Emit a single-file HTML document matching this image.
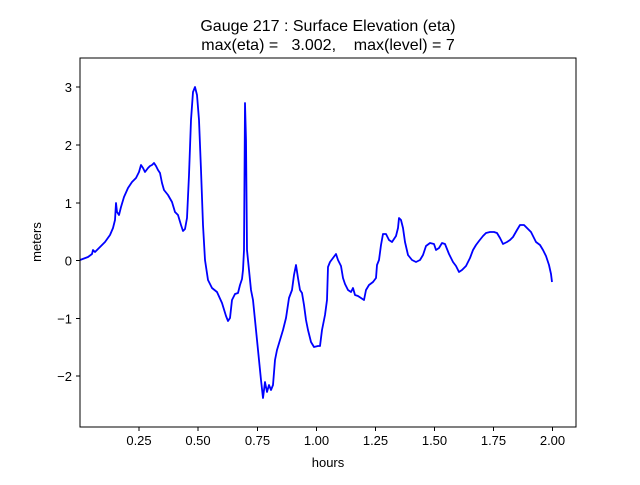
<!DOCTYPE html>
<html><head><meta charset="utf-8"><style>body{margin:0;background:#fff}</style></head><body>
<svg width="640" height="480" xmlns="http://www.w3.org/2000/svg" font-family="Liberation Sans, DejaVu Sans, sans-serif">
<rect width="640" height="480" fill="#fff"/>
<text x="328" y="31" font-size="16" text-anchor="middle">Gauge 217 : Surface Elevation (eta)</text>
<text x="328" y="50" font-size="16" text-anchor="middle" xml:space="preserve">max(eta) =   3.002,    max(level) = 7</text>
<polyline fill="none" stroke="#0000ff" stroke-width="1.8" stroke-linejoin="round" points="80,260 88,257 92,254 93,250 95,252 100,247 105,242 110,235 113,228 115,220 116,203 117,212 119,215 121,207 124,197 128,188 132,182 136,178 139,172 141,165 143,168 145,172 148,168 150,166 152,165 154,163 156,166 158,170 160,173 162,183 164,190 168,195 172,202 175,212 178,215 181,225 183,231 185,229 187,218 189,175 191,120 193,92 195,87 197,95 199,120 201,170 203,225 205,260 208,280 212,288 217,292 222,303 226,316 228,321 230,318 232,300 235,294 238,293 239,289 240,285 242,279 243,270 244,250 245,103 246,140 247,250 249,270 251,290 253,300 255,320 257,340 259,360 261,380 263,398 265,382 267,392 269,385 271,390 273,385 275,360 277,350 280,340 283,330 286,318 289,298 292,290 294,275 296,265 298,278 300,290 302,293 304,305 306,320 308,330 311,342 314,347 318,346 320,346 322,330 325,315 327,300 328,267 330,262 333,258 336,254 338,260 341,266 343,278 345,284 348,290 351,292 353,288 355,295 358,296 361,298 364,300 366,290 369,285 373,282 376,278 377,265 379,260 381,245 383,234 386,234 389,240 392,242 396,236 398,228 399,218 401,220 403,228 405,242 408,255 412,260 416,262 420,260 423,255 426,246 430,243 434,244 436,250 439,248 442,243 445,244 449,254 453,262 456,266 459,272 462,270 466,266 470,258 473,250 476,245 479,241 483,236 486,233 490,232 494,232 497,233 500,238 503,244 507,242 510,240 513,237 517,230 520,225 524,225 527,228 531,232 533,236 536,242 540,245 543,250 546,256 549,265 551,274 552,282"/>
<rect x="80" y="58" width="496" height="369" fill="none" stroke="#000" stroke-width="1"/>
<g stroke="#000" stroke-width="1">
<line x1="139" y1="427" x2="139" y2="431"/><line x1="198" y1="427" x2="198" y2="431"/><line x1="257.5" y1="427" x2="257.5" y2="431"/><line x1="316.5" y1="427" x2="316.5" y2="431"/><line x1="375.5" y1="427" x2="375.5" y2="431"/><line x1="434.5" y1="427" x2="434.5" y2="431"/><line x1="493.5" y1="427" x2="493.5" y2="431"/><line x1="552.5" y1="427" x2="552.5" y2="431"/>
<line x1="76" y1="87" x2="80" y2="87"/><line x1="76" y1="145" x2="80" y2="145"/><line x1="76" y1="203" x2="80" y2="203"/><line x1="76" y1="260.5" x2="80" y2="260.5"/><line x1="76" y1="318.5" x2="80" y2="318.5"/><line x1="76" y1="376" x2="80" y2="376"/>
</g>
<g font-size="13" text-anchor="middle">
<text x="139" y="445">0.25</text><text x="198" y="445">0.50</text><text x="257.5" y="445">0.75</text><text x="316.5" y="445">1.00</text><text x="375.5" y="445">1.25</text><text x="434.5" y="445">1.50</text><text x="493.5" y="445">1.75</text><text x="552.5" y="445">2.00</text>
<text x="328" y="467">hours</text>
</g>
<g font-size="13" text-anchor="end">
<text x="72" y="92">3</text><text x="72" y="150">2</text><text x="72" y="208">1</text><text x="72" y="265.5">0</text><text x="72" y="323.5">−1</text><text x="72" y="381">−2</text>
</g>
<text x="41" y="242" font-size="13" text-anchor="middle" transform="rotate(-90 41 242)">meters</text>
</svg>
</body></html>
